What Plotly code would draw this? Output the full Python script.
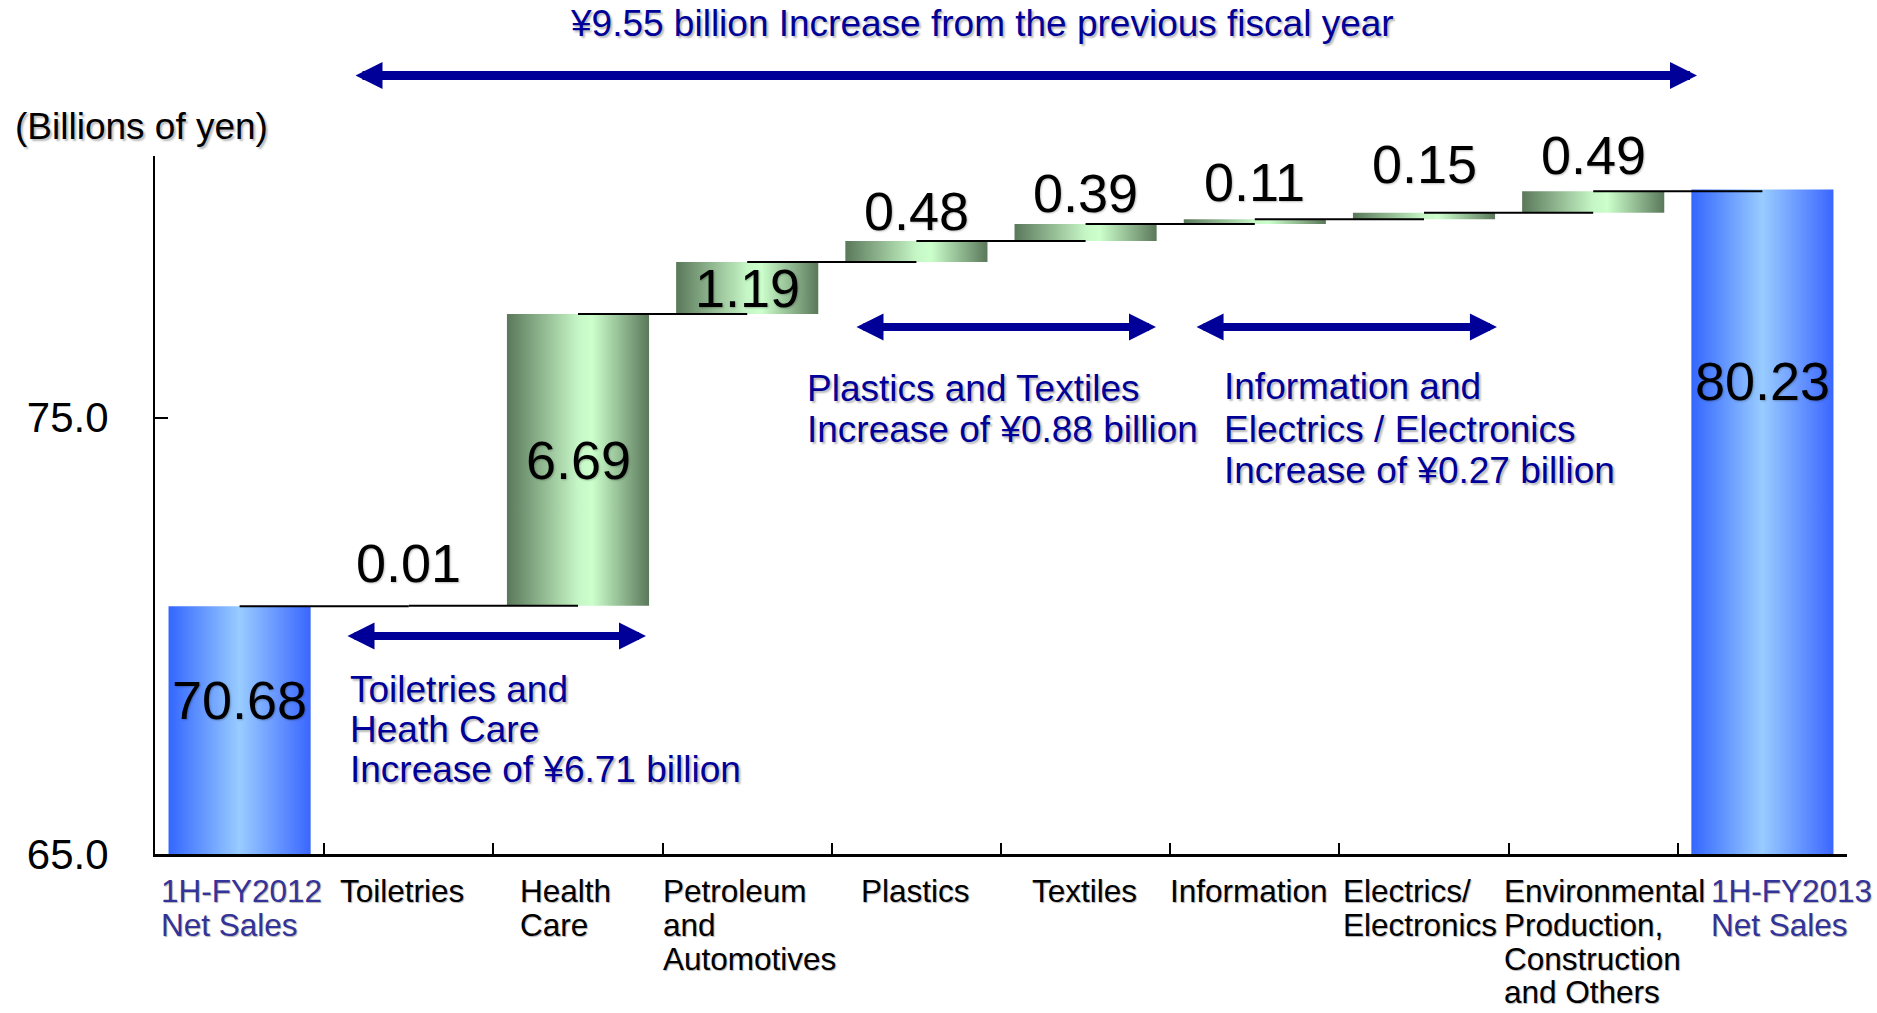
import plotly.graph_objects as go

# ---------------------------------------------------------------- data
category_lines = [
    ["1H-FY2012", "Net Sales"],
    ["Toiletries"],
    ["Health", "Care"],
    ["Petroleum", "and", "Automotives"],
    ["Plastics"],
    ["Textiles"],
    ["Information"],
    ["Electrics/", "Electronics"],
    ["Environmental", "Production,", "Construction", "and Others"],
    ["1H-FY2013", "Net Sales"],
]
opening_total = 70.68
segment_changes = [0.01, 6.69, 1.19, 0.48, 0.39, 0.11, 0.15, 0.49]
closing_total = 80.23

y_range = [65.0, 81.0]
y_ticks = [65.0, 75.0]

title_text = "¥9.55 billion Increase from the previous fiscal year"
unit_text = "(Billions of yen)"
group_notes = [
    ["Toiletries and", "Heath Care", "Increase of ¥6.71 billion"],
    ["Plastics and Textiles", "Increase of ¥0.88 billion"],
    ["Information and", "Electrics / Electronics", "Increase of ¥0.27 billion"],
]

# ---------------------------------------------------------------- layout geometry
FIG_W, FIG_H = 1877, 1013
M_L, M_R, M_T, M_B = 155, 30, 156, 159
PLOT_W = FIG_W - M_L - M_R
PLOT_H = FIG_H - M_T - M_B
N_CAT = len(category_lines)
PX_PER_CAT = PLOT_W / N_CAT

FONT = "Liberation Sans, Arial, Helvetica, sans-serif"
NAVY = "#000099"
TOTAL_LABEL_BLUE = "#333399"
SHADOW = "2px 2px 2px rgba(0,0,0,0.28)"
BAR_WIDTH = 0.84

BLUE_GRADIENT = [[0.0, "#3366ff"], [0.5, "#99ccff"], [1.0, "#3a66ff"]]
GREEN_GRADIENT = [[0.0, "#5a785a"], [0.5, "#c6f6c6"], [0.6, "#ccffcc"], [1.0, "#5a785a"]]


def to_paper(px, py):
    return (px - M_L) / PLOT_W, 1 - (py - M_T) / PLOT_H


# ---------------------------------------------------------------- bar geometry
bars = []  # (x, base, top, gradient)
bars.append((0, 0.0, opening_total, BLUE_GRADIENT))
level = opening_total
levels = [level]
for k, change in enumerate(segment_changes):
    bars.append((k + 1, level, level + change, GREEN_GRADIENT))
    level += change
    levels.append(level)
bars.append((N_CAT - 1, 0.0, closing_total, BLUE_GRADIENT))

fig = go.Figure()

for x, base, top, grad in bars:
    x0, x1 = x - BAR_WIDTH / 2, x + BAR_WIDTH / 2
    fig.add_trace(go.Scatter(
        x=[x0, x1, x1, x0, x0],
        y=[base, base, top, top, base],
        mode="lines",
        line=dict(width=0, color="rgba(0,0,0,0)"),
        fill="toself",
        fillgradient=dict(type="horizontal", colorscale=grad),
        hoverinfo="skip",
        showlegend=False,
    ))

# step connectors: centre of one bar to centre of the next, at the running level
cx, cy = [], []
for i, lv in enumerate(levels):
    cx += [i, i + 1, None]
    cy += [lv, lv, None]
fig.add_trace(go.Scatter(
    x=cx, y=cy, mode="lines",
    line=dict(color="black", width=2),
    hoverinfo="skip", showlegend=False,
))

annotations = []

# ---------------------------------------------------------------- value labels
VALUE_FONT = dict(family=FONT, size=54, color="black", shadow="1px 1px 2px rgba(0,0,0,0.25)")
total_label_y = [68.53, 75.85]
small_label_lift_px = [43, 0, 0, 30, 31, 37, 49, 36]

annotations.append(dict(x=0, y=total_label_y[0], xref="x", yref="y",
                        text=f"{opening_total:.2f}", showarrow=False,
                        font=VALUE_FONT, xanchor="center", yanchor="middle"))
annotations.append(dict(x=N_CAT - 1, y=total_label_y[1], xref="x", yref="y",
                        text=f"{closing_total:.2f}", showarrow=False,
                        font=VALUE_FONT, xanchor="center", yanchor="middle"))
for k, change in enumerate(segment_changes):
    base = levels[k]
    top = levels[k + 1]
    if change >= 1:
        annotations.append(dict(x=k + 1, y=(base + top) / 2, xref="x", yref="y",
                                text=f"{change:.2f}", showarrow=False, font=VALUE_FONT,
                                xanchor="center", yanchor="middle"))
    else:
        annotations.append(dict(x=k + 1, y=top, xref="x", yref="y",
                                text=f"{change:.2f}", showarrow=False, font=VALUE_FONT,
                                xanchor="center", yanchor="middle",
                                yshift=small_label_lift_px[k]))

# ---------------------------------------------------------------- category labels
CAT_FONT_SIZE = 31.5
cat_left_shift_px = [-81, -71, -60, -86, -57, -56, -87, -83, -91, -53]
first_line_drop, line_gap = 37, 33.8
for i, lines in enumerate(category_lines):
    color = TOTAL_LABEL_BLUE if i in (0, N_CAT - 1) else "black"
    for j, line in enumerate(lines):
        annotations.append(dict(
            x=i, y=0, xref="x", yref="paper", text=line, showarrow=False,
            xanchor="left", yanchor="middle",
            xshift=cat_left_shift_px[i], yshift=-(first_line_drop + j * line_gap),
            font=dict(family=FONT, size=CAT_FONT_SIZE, color=color,
                      shadow="1px 1px 1px rgba(0,0,0,0.3)"),
        ))

# ---------------------------------------------------------------- title / unit
tx, ty = to_paper(982, 24)
annotations.append(dict(x=tx, y=ty, xref="paper", yref="paper", text=title_text,
                        showarrow=False, xanchor="center", yanchor="middle",
                        font=dict(family=FONT, size=37, color=NAVY, shadow=SHADOW)))
ux, uy = to_paper(141, 126)
annotations.append(dict(x=ux, y=uy, xref="paper", yref="paper", text=unit_text,
                        showarrow=False, xanchor="center", yanchor="middle",
                        font=dict(family=FONT, size=37, color="black", shadow=SHADOW)))

# ---------------------------------------------------------------- group notes
note_blocks = [
    (348, [689, 729, 769]),
    (805, [388, 429]),
    (1222, [386, 429, 470]),
]
for lines, (left_px, line_ys) in zip(group_notes, note_blocks):
    for line, y_px in zip(lines, line_ys):
        nx, ny = to_paper(left_px, y_px)
        annotations.append(dict(x=nx, y=ny, xref="paper", yref="paper", text=line,
                                showarrow=False, xanchor="left", yanchor="middle",
                                font=dict(family=FONT, size=37, color=NAVY, shadow=SHADOW)))

# ---------------------------------------------------------------- double-headed arrows
HEAD_PX = 27.0


def arrow_style(width):
    size = HEAD_PX / 5.0 / width
    return dict(text="", showarrow=True, arrowside="end+start",
                arrowhead=2, startarrowhead=2, arrowsize=size, startarrowsize=size,
                arrowwidth=width, arrowcolor=NAVY, standoff=0, startstandoff=0)


# whole-period arrow above the chart (pixel tips on the page)
rx, ry = to_paper(1697, 75.5)
annotations.append(dict(x=rx, y=ry, xref="paper", yref="paper",
                        ax=-(1697 - 354), ay=0,
                        axref="pixel", ayref="pixel", **arrow_style(9)))

# segment-group arrows: (left tip, right tip, level) in axis units
arrow_spans = [
    (0.629, 2.402, 70.00),   # toiletries + health care
    (3.637, 5.416, 77.08),   # plastics + textiles
    (5.647, 7.431, 77.08),   # information + electrics
]
for x_left, x_right, y_lv in arrow_spans:
    annotations.append(dict(x=x_right, y=y_lv, ax=x_left, ay=y_lv,
                            xref="x", yref="y", axref="x", ayref="y", **arrow_style(8)))

# ---------------------------------------------------------------- axes / layout
fig.update_layout(
    width=FIG_W, height=FIG_H, autosize=False,
    margin=dict(l=M_L, r=M_R, t=M_T, b=M_B, pad=0),
    paper_bgcolor="white", plot_bgcolor="white",
    font=dict(family=FONT, color="black"),
    showlegend=False,
    annotations=annotations,
    xaxis=dict(
        range=[-0.5, N_CAT - 0.5], tickmode="array",
        tickvals=[i - 0.5 for i in range(N_CAT + 1)],
        showticklabels=False, ticks="inside", ticklen=11, tickwidth=2, tickcolor="black",
        showline=True, linewidth=3, linecolor="black",
        showgrid=False, zeroline=False, fixedrange=True,
    ),
    yaxis=dict(
        range=y_range, tickmode="array", tickvals=y_ticks, tickformat=".1f",
        ticks="inside", ticklen=13, tickwidth=2, tickcolor="black",
        tickfont=dict(family=FONT, size=42, color="black"),
        ticklabelstandoff=36,
        showline=True, linewidth=2, linecolor="black",
        showgrid=False, zeroline=False, fixedrange=True,
    ),
)

fig.write_html("out.html", config={"displayModeBar": False},
               post_script="document.body.style.margin='0';")
